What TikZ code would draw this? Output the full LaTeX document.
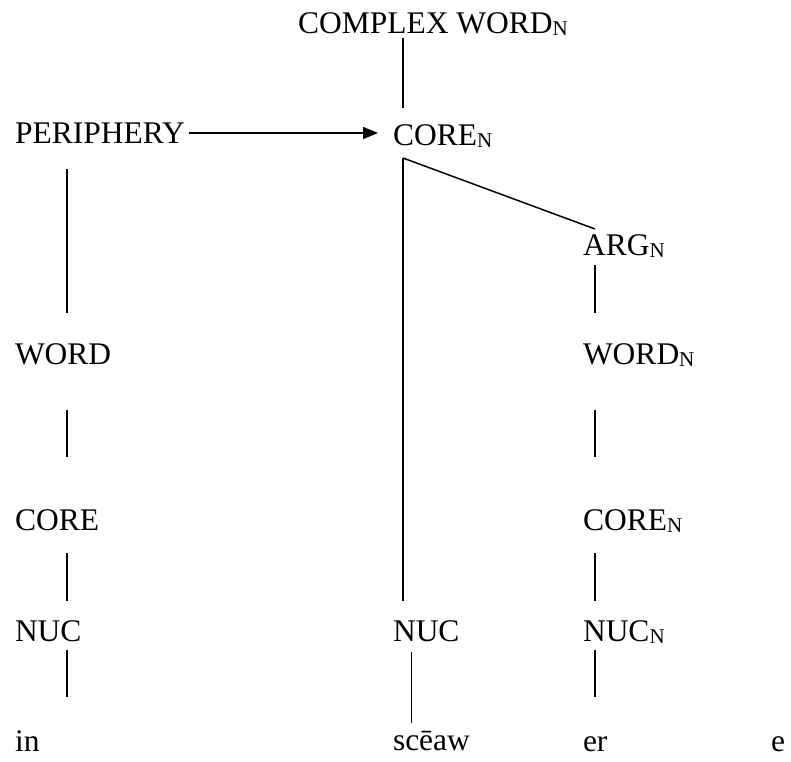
\documentclass[tikz,border=0pt]{standalone}
\usepackage{fontspec}
\setmainfont{Liberation Serif}
\usetikzlibrary{arrows.meta,calc}

% subscript N used on the labels of the nominal layer
\newcommand{\subN}{\raisebox{-2pt}{\fontsize{21}{21}\selectfont N}}

\tikzset{
  lbl/.style={anchor=base west, inner sep=0pt, outer sep=0pt,
              font=\fontsize{31.5}{38}\selectfont},
  link/.style={line width=1.5pt, line cap=butt},
  arrowlink/.style={link, -{Triangle[length=15pt,width=12pt]}}
}

\begin{document}
\begin{tikzpicture}[x=1pt,y=1pt]
  \useasboundingbox (0,0) rectangle (791,-761);

  % column positions of the vertical connectors
  \coordinate (colL) at (67,0);
  \coordinate (colM) at (403,0);
  \coordinate (colMb) at (411.5,0);
  \coordinate (colR) at (595,0);

  % labels
  \node[lbl] (cw)     at (298,-33)  {COMPLEX WORD\subN};
  \node[lbl] (periph) at (15,-143)  {PERIPHERY};
  \node[lbl] (coreN)  at (393,-145) {CORE\subN};
  \node[lbl] (argN)   at (583,-255) {ARG\subN};
  \node[lbl] (word)   at (15,-364)  {WORD};
  \node[lbl] (wordN)  at (583,-364) {WORD\subN};
  \node[lbl] (core)   at (15,-530)  {CORE};
  \node[lbl] (coreNb) at (583,-530) {CORE\subN};
  \node[lbl] (nucL)   at (15,-641)  {NUC};
  \node[lbl] (nucM)   at (393,-641) {NUC};
  \node[lbl] (nucN)   at (583,-641) {NUC\subN};
  \node[lbl] (in)     at (15,-751)  {in};
  \node[lbl] (sceaw)  at (393,-750) {scēaw};
  \node[lbl] (er)     at (583,-751) {er};
  \node[lbl] (e)      at (771,-751) {e};

  % top of the tree
  \draw[link] ($(cw.base -| colM)+(0,-5)$) -- ($(coreN.base -| colM)+(0,37)$);
  \draw[arrowlink] ($(periph.base east)+(4,10)$) -- ($(coreN.base west)+(-15,12)$);
  \draw[link] ($(coreN.base -| colM)+(0,-13)$) -- ($(argN.base -| colR)+(0,26)$);
  \draw[link] ($(coreN.base -| colM)+(0,-13)$) -- ($(nucM.base -| colM)+(0,40)$);

  % left column
  \draw[link] ($(periph.base -| colL)+(0,-26)$) -- ($(word.base -| colL)+(0,51)$);
  \draw[link] ($(word.base -| colL)+(0,-46)$) -- ($(core.base -| colL)+(0,73)$);
  \draw[link] ($(core.base -| colL)+(0,-23)$) -- ($(nucL.base -| colL)+(0,40)$);
  \draw[link] ($(nucL.base -| colL)+(0,-9)$) -- ($(in.base -| colL)+(0,54)$);

  % middle column
  \draw[link] ($(nucM.base -| colMb)+(0,-11)$) -- ($(sceaw.base -| colMb)+(0,27)$);

  % right column
  \draw[link] ($(argN.base -| colR)+(0,-10)$) -- ($(wordN.base -| colR)+(0,51)$);
  \draw[link] ($(wordN.base -| colR)+(0,-46)$) -- ($(coreNb.base -| colR)+(0,73)$);
  \draw[link] ($(coreNb.base -| colR)+(0,-23)$) -- ($(nucN.base -| colR)+(0,40)$);
  \draw[link] ($(nucN.base -| colR)+(0,-9)$) -- ($(er.base -| colR)+(0,54)$);
\end{tikzpicture}
\end{document}
